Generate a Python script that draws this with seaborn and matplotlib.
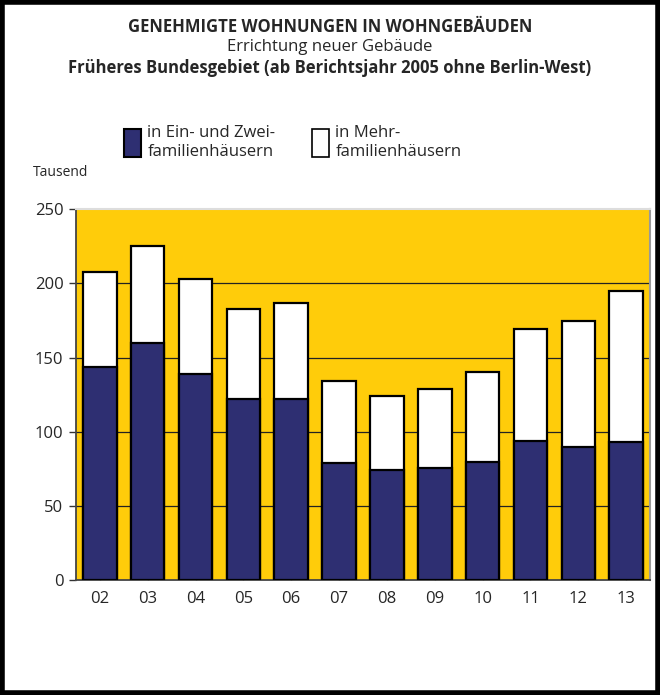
import matplotlib
matplotlib.use('Agg')
import matplotlib.pyplot as plt
import matplotlib.patches as mpatches
import numpy as np
import pandas as pd
import seaborn as sns

# Werte in Tausend
jahre = ['02', '03', '04', '05', '06', '07', '08', '09', '10', '11', '12', '13']
ein_zwei = [144, 160, 139, 122, 122, 79, 74, 76, 80, 94, 90, 93]
mehr = [64, 65, 64, 61, 65, 55, 50, 53, 60, 75, 85, 102]

df = pd.DataFrame({'Jahr': jahre, 'Ein': ein_zwei, 'Mehr': mehr})
df['Gesamt'] = df['Ein'] + df['Mehr']

sns.set_style('white')
plt.rcParams['font.family'] = ['Open Sans', 'DejaVu Sans']

navy = '#2E2F72'
gelb = '#FFCC0A'

fig = plt.figure(figsize=(6.6, 6.95), dpi=100)
ax = fig.add_axes([0.115, 0.165, 0.87, 0.534])
ax.set_facecolor(gelb)

sns.barplot(data=df, x='Jahr', y='Gesamt', color='white', edgecolor='black',
            linewidth=1.6, width=0.7, saturation=1, ax=ax, zorder=2)
sns.barplot(data=df, x='Jahr', y='Ein', color=navy, edgecolor='black',
            linewidth=1.6, width=0.7, saturation=1, ax=ax, zorder=3)

for y in [50, 100, 150, 200]:
    ax.axhline(y, color='#222222', linewidth=0.9, zorder=1)

ax.set_ylim(0, 250)
ax.set_xlim(-0.5, len(jahre) - 0.5)
ax.set_yticks([0, 50, 100, 150, 200, 250])
ax.set_xlabel('')
ax.set_ylabel('')
ax.set_xticks(np.arange(-0.5, len(jahre)), minor=True)
ax.tick_params(axis='x', which='minor', direction='out', length=6, width=1, color='#333333')
ax.tick_params(axis='x', which='major', direction='in', length=3, width=1, color='#333333',
               labelsize=12, pad=8)
ax.tick_params(axis='y', direction='out', length=5, width=1, color='#333333', labelsize=12, pad=4)
ax.tick_params(left=True, bottom=True)
ax.grid(False)

for s in ['left', 'bottom']:
    ax.spines[s].set_color('#444444')
    ax.spines[s].set_linewidth(1.3)
ax.spines['right'].set_color('#999999')
ax.spines['right'].set_linewidth(1.5)
ax.spines['top'].set_color('#dddddd')
ax.spines['top'].set_linewidth(1.5)

# Titel
fig.text(0.5, 0.961, 'GENEHMIGTE WOHNUNGEN IN WOHNGEBÄUDEN', ha='center', va='center',
         fontsize=12, fontweight='bold')
fig.text(0.5, 0.932, 'Errichtung neuer Gebäude', ha='center', va='center', fontsize=12)
fig.text(0.5, 0.902, 'Früheres Bundesgebiet (ab Berichtsjahr 2005 ohne Berlin-West)',
         ha='center', va='center', fontsize=12, fontweight='bold')
fig.text(0.05, 0.752, 'Tausend', ha='left', va='center', fontsize=10)

# Legende
handles = [mpatches.Patch(facecolor=navy, edgecolor='black', linewidth=1.5),
           mpatches.Patch(facecolor='white', edgecolor='black', linewidth=1.2)]
labels = ['in Ein- und Zwei-\nfamilienhäusern', 'in Mehr-\nfamilienhäusern']
fig.legend(handles, labels, ncol=2, loc='center left', bbox_to_anchor=(0.165, 0.795),
           frameon=False, fontsize=12, handlelength=1.0, handleheight=2.2,
           handletextpad=0.4, columnspacing=2.2, labelspacing=0)

# Rahmen
fig.patches.append(mpatches.Rectangle((0.003, 0.003), 0.994, 0.994, transform=fig.transFigure,
                                      fill=False, edgecolor='black', linewidth=4))

fig.savefig('out.png', dpi=100)
